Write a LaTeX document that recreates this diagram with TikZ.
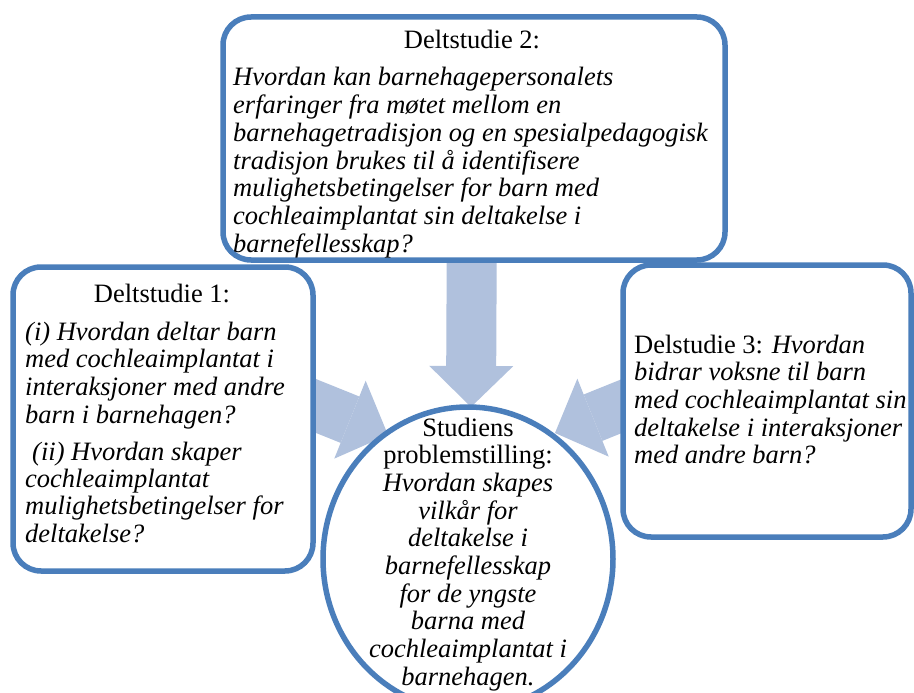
\documentclass[tikz,border=0pt]{standalone}
\usepackage{fontspec}
\setmainfont{Liberation Serif}
\usetikzlibrary{shapes.geometric,arrows.meta}
\definecolor{boxblue}{RGB}{74,126,187}
\definecolor{arrowblue}{RGB}{176,193,221}
\begin{document}
\begin{tikzpicture}[x=1pt,y=-1pt,
  box/.style={draw=boxblue, line width=5.5pt, fill=white, rounded corners=28pt, inner sep=0pt},
  circbox/.style={ellipse, draw=boxblue, line width=5.5pt, fill=white, inner sep=0pt},
  blockarrow/.style={draw=arrowblue, line width=50pt, -{Triangle[length=41pt,width=84pt,line width=0pt]}},
  txt/.style={inner sep=0pt, font=\fontsize{26.5}{27.7}\selectfont}]
\fill[white] (0,0) rectangle (914,693);
\useasboundingbox (0,0) rectangle (914,693);
% arrow end points
\coordinate (a2s) at (472,200);
\coordinate (a2t) at (471,407);
\coordinate (a1s) at (249,379);
\coordinate (a1t) at (388,435);
\coordinate (a3s) at (694,377);
\coordinate (a3t) at (555,433);
\draw[blockarrow] (a2s) -- (a2t);
\draw[blockarrow] (a1s) -- (a1t);
\draw[blockarrow] (a3s) -- (a3t);
% boxes
\node[box, minimum width=300pt, minimum height=304pt] (d1) at (163,419) {};
\node[box, minimum width=288pt, minimum height=272pt] (d3) at (767,401) {};
\node[box, minimum width=502pt, minimum height=243pt] (d2) at (474,138.5) {};
\node[circbox, minimum width=290pt, minimum height=304pt] (main) at (468,559) {};
% texts of Deltstudie 2
\node[txt, anchor=base] (t2h) at (472,49) {Deltstudie 2:};
\node[txt, anchor=base west] (t2b) at (233,86) {\parbox[t]{490pt}{\raggedright\itshape
Hvordan kan barnehagepersonalets\\
erfaringer fra møtet mellom en\\
barnehagetradisjon og en spesialpedagogisk\\
tradisjon brukes til å identifisere\\
mulighetsbetingelser for barn med\\
cochleaimplantat sin deltakelse i\\
barnefellesskap?}};
% texts of Deltstudie 1
\node[txt, anchor=base] (t1h) at (162,302) {Deltstudie 1:};
\node[txt, anchor=base west] (t1a) at (25,340) {\parbox[t]{285pt}{\raggedright\itshape
(i) Hvordan deltar barn\\
med cochleaimplantat i\\
interaksjoner med andre\\
barn i barnehagen?}};
\node[txt, anchor=base west] (t1b) at (32,460) {\parbox[t]{285pt}{\raggedright\itshape
(ii) Hvordan skaper}};
\node[txt, anchor=base west] (t1c) at (25,487) {\parbox[t]{285pt}{\raggedright\itshape
cochleaimplantat\\
mulighetsbetingelser for\\
deltakelse?}};
% texts of Delstudie 3
\node[txt, anchor=base west] (t3) at (634,353) {\parbox[t]{280pt}{\raggedright
Delstudie 3: \textit{Hvordan}\\
\itshape bidrar voksne til barn\\
med cochleaimplantat sin\\
deltakelse i interaksjoner\\
med andre barn?}};
% text of the circle
\node[txt, anchor=base] (tm) at (468,436) {\parbox[t]{300pt}{\centering
Studiens\\
problemstilling:\\
\itshape Hvordan skapes\\
vilkår for\\
deltakelse i\\
barnefellesskap\\
for de yngste\\
barna med\\
cochleaimplantat i\\
barnehagen.}};
\end{tikzpicture}
\end{document}
